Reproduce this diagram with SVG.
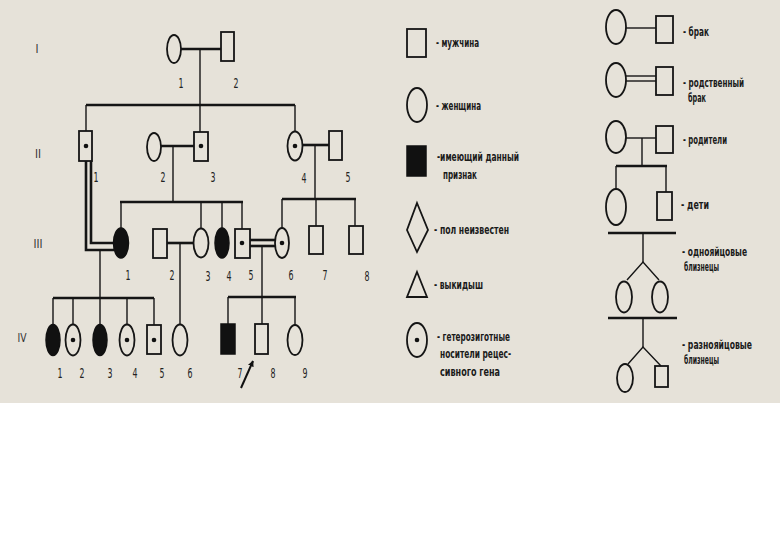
<svg xmlns="http://www.w3.org/2000/svg" width="780" height="540" viewBox="0 0 780 540">
<defs>
<style>
.s{fill:none;stroke:#151515;stroke-width:1.8}
.f{fill:#111;stroke:#111;stroke-width:1.5}
.d{fill:#111}
.ln{stroke:#151515;stroke-width:1.4;fill:none}
.lt{stroke:#151515;stroke-width:2.6;fill:none}
.num{font-family:"Liberation Sans Narrow","DejaVu Sans Condensed","Liberation Sans",sans-serif;font-size:14px;fill:#222;text-anchor:middle}
.gen{font-family:"Liberation Sans Narrow","DejaVu Sans Condensed","Liberation Sans",sans-serif;font-size:12px;fill:#333;text-anchor:middle}
.lg{font-family:"Liberation Sans Narrow","DejaVu Sans Condensed","Liberation Sans",sans-serif;font-size:12px;font-weight:bold;fill:#1a1a1a}
</style>
<marker id="arr" viewBox="0 0 10 10" refX="9" refY="5" markerWidth="6" markerHeight="6" orient="auto" markerUnits="userSpaceOnUse">
<path d="M0,0 L10,5 L0,10 z" fill="#111"/>
</marker>
</defs>
<rect x="0" y="0" width="780" height="403" fill="#e6e2d9"/>
<rect x="0" y="403" width="780" height="137" fill="#ffffff"/>

<g id="gen-labels">
<text class="gen" x="37" y="53" textLength="3" lengthAdjust="spacingAndGlyphs">I</text>
<text class="gen" x="38" y="158" textLength="6" lengthAdjust="spacingAndGlyphs">II</text>
<text class="gen" x="38" y="248" textLength="9" lengthAdjust="spacingAndGlyphs">III</text>
<text class="gen" x="22" y="342" textLength="9" lengthAdjust="spacingAndGlyphs">IV</text>
</g>

<g id="connectors">
<line class="lt" x1="181" y1="49" x2="221" y2="49"/>
<line class="ln" x1="200" y1="49" x2="200" y2="105"/>
<line class="lt" x1="86" y1="105" x2="295" y2="105"/>
<line class="ln" x1="86" y1="105" x2="86" y2="131"/>
<line class="ln" x1="200" y1="105" x2="200" y2="132"/>
<line class="ln" x1="295" y1="105" x2="295" y2="131"/>
<line class="lt" x1="161" y1="146" x2="194" y2="146" stroke-width="3"/>
<line class="ln" x1="173" y1="146" x2="173" y2="202"/>
<line class="lt" x1="302" y1="145" x2="329" y2="145"/>
<line class="ln" x1="315" y1="145" x2="315" y2="199"/>
<line class="lt" x1="120" y1="202" x2="243" y2="202"/>
<line class="ln" x1="121" y1="202" x2="121" y2="228"/>
<line class="ln" x1="201" y1="202" x2="201" y2="229"/>
<line class="ln" x1="222" y1="202" x2="222" y2="228"/>
<line class="ln" x1="242" y1="202" x2="242" y2="229"/>
<line class="lt" x1="282" y1="199" x2="356" y2="199"/>
<line class="ln" x1="282" y1="199" x2="282" y2="228"/>
<line class="ln" x1="316" y1="199" x2="316" y2="226"/>
<line class="ln" x1="355" y1="199" x2="355" y2="226"/>
<path class="lt" d="M86,161 V250 H114" stroke-width="2.2"/>
<path class="lt" d="M91,161 V243 H114" stroke-width="2.2"/>
<line class="ln" x1="100" y1="250" x2="100" y2="298"/>
<line class="lt" x1="167" y1="243" x2="193" y2="243" stroke-width="2"/>
<line class="ln" x1="180" y1="243" x2="180" y2="325"/>
<line class="lt" x1="250" y1="240" x2="275" y2="240" stroke-width="2.2"/>
<line class="lt" x1="250" y1="246" x2="275" y2="246" stroke-width="2.2"/>
<line class="ln" x1="262" y1="246" x2="262" y2="297"/>
<line class="lt" x1="53" y1="298" x2="154" y2="298"/>
<line class="ln" x1="53" y1="298" x2="53" y2="325"/>
<line class="ln" x1="73" y1="298" x2="73" y2="325"/>
<line class="ln" x1="100" y1="298" x2="100" y2="325"/>
<line class="ln" x1="127" y1="298" x2="127" y2="325"/>
<line class="ln" x1="154" y1="298" x2="154" y2="325"/>
<line class="lt" x1="228" y1="297" x2="296" y2="297"/>
<line class="ln" x1="228" y1="297" x2="228" y2="324"/>
<line class="ln" x1="262" y1="297" x2="262" y2="324"/>
<line class="ln" x1="295" y1="297" x2="295" y2="325"/>
<line x1="241" y1="388" x2="253" y2="361" stroke="#111" stroke-width="2" marker-end="url(#arr)"/>
</g>

<g id="I-1"><ellipse class="s" cx="174" cy="49" rx="7" ry="14"/><text class="num" x="181" y="88" textLength="5" lengthAdjust="spacingAndGlyphs">1</text></g>
<g id="I-2"><rect class="s" x="221" y="32" width="13" height="29"/><text class="num" x="236" y="88" textLength="5" lengthAdjust="spacingAndGlyphs">2</text></g>

<g id="II-1"><rect class="s" x="79" y="131" width="13" height="30"/><circle class="d" cx="86" cy="146" r="2.3"/><text class="num" x="96" y="182" textLength="5" lengthAdjust="spacingAndGlyphs">1</text></g>
<g id="II-2"><ellipse class="s" cx="154" cy="147" rx="7" ry="14"/><text class="num" x="163" y="182" textLength="5" lengthAdjust="spacingAndGlyphs">2</text></g>
<g id="II-3"><rect class="s" x="194" y="132" width="14" height="29"/><circle class="d" cx="201" cy="146" r="2.3"/><text class="num" x="213" y="182" textLength="5" lengthAdjust="spacingAndGlyphs">3</text></g>
<g id="II-4"><ellipse class="s" cx="295" cy="146" rx="7.5" ry="14.5"/><circle class="d" cx="295" cy="146" r="2.3"/><text class="num" x="304" y="183" textLength="5" lengthAdjust="spacingAndGlyphs">4</text></g>
<g id="II-5"><rect class="s" x="329" y="131" width="13" height="29"/><text class="num" x="348" y="182" textLength="5" lengthAdjust="spacingAndGlyphs">5</text></g>

<g id="III-1"><ellipse class="f" cx="121" cy="243" rx="7.5" ry="15"/><text class="num" x="128" y="280" textLength="5" lengthAdjust="spacingAndGlyphs">1</text></g>
<g id="III-2"><rect class="s" x="153" y="229" width="14" height="29"/><text class="num" x="172" y="280" textLength="5" lengthAdjust="spacingAndGlyphs">2</text></g>
<g id="III-3"><ellipse class="s" cx="201" cy="243" rx="7.5" ry="14.5"/><text class="num" x="208" y="281" textLength="5" lengthAdjust="spacingAndGlyphs">3</text></g>
<g id="III-4"><ellipse class="f" cx="222" cy="243" rx="7" ry="15"/><text class="num" x="229" y="281" textLength="5" lengthAdjust="spacingAndGlyphs">4</text></g>
<g id="III-5"><rect class="s" x="235" y="229" width="15" height="29"/><circle class="d" cx="242" cy="243" r="2.3"/><text class="num" x="251" y="280" textLength="5" lengthAdjust="spacingAndGlyphs">5</text></g>
<g id="III-6"><ellipse class="s" cx="282" cy="243" rx="7" ry="15"/><circle class="d" cx="282" cy="243" r="2.3"/><text class="num" x="291" y="280" textLength="5" lengthAdjust="spacingAndGlyphs">6</text></g>
<g id="III-7"><rect class="s" x="309" y="226" width="14" height="28"/><text class="num" x="325" y="280" textLength="5" lengthAdjust="spacingAndGlyphs">7</text></g>
<g id="III-8"><rect class="s" x="349" y="226" width="14" height="28"/><text class="num" x="367" y="281" textLength="5" lengthAdjust="spacingAndGlyphs">8</text></g>

<g id="IV-1"><ellipse class="f" cx="53" cy="340" rx="7" ry="15.5"/><text class="num" x="60" y="378" textLength="5" lengthAdjust="spacingAndGlyphs">1</text></g>
<g id="IV-2"><ellipse class="s" cx="73" cy="340" rx="7.5" ry="15.5"/><circle class="d" cx="73" cy="340" r="2.3"/><text class="num" x="82" y="378" textLength="5" lengthAdjust="spacingAndGlyphs">2</text></g>
<g id="IV-3"><ellipse class="f" cx="100" cy="340" rx="7" ry="15.5"/><text class="num" x="110" y="378" textLength="5" lengthAdjust="spacingAndGlyphs">3</text></g>
<g id="IV-4"><ellipse class="s" cx="127" cy="340" rx="7.5" ry="15.5"/><circle class="d" cx="127" cy="340" r="2.3"/><text class="num" x="135" y="378" textLength="5" lengthAdjust="spacingAndGlyphs">4</text></g>
<g id="IV-5"><rect class="s" x="147" y="325" width="14" height="29"/><circle class="d" cx="154" cy="340" r="2.3"/><text class="num" x="162" y="378" textLength="5" lengthAdjust="spacingAndGlyphs">5</text></g>
<g id="IV-6"><ellipse class="s" cx="180" cy="340" rx="7.5" ry="15.5"/><text class="num" x="190" y="378" textLength="5" lengthAdjust="spacingAndGlyphs">6</text></g>
<g id="IV-7"><rect class="f" x="221" y="324" width="14" height="30"/><text class="num" x="240" y="378" textLength="5" lengthAdjust="spacingAndGlyphs">7</text></g>
<g id="IV-8"><rect class="s" x="255" y="324" width="13" height="30"/><text class="num" x="273" y="378" textLength="5" lengthAdjust="spacingAndGlyphs">8</text></g>
<g id="IV-9"><ellipse class="s" cx="295" cy="340" rx="7.5" ry="15"/><text class="num" x="305" y="378" textLength="5" lengthAdjust="spacingAndGlyphs">9</text></g>

<g id="legend-male"><rect class="s" x="407" y="29" width="19" height="28"/><text class="lg" x="436" y="47" textLength="43" lengthAdjust="spacingAndGlyphs">- мужчина</text></g>
<g id="legend-female"><ellipse class="s" cx="417" cy="105" rx="10" ry="17"/><text class="lg" x="436" y="110" textLength="45" lengthAdjust="spacingAndGlyphs">- женщина</text></g>
<g id="legend-affected"><rect class="f" x="407" y="146" width="19" height="30"/><text class="lg" x="437" y="161" textLength="82" lengthAdjust="spacingAndGlyphs">-имеющий данный</text><text class="lg" x="443" y="179" textLength="34" lengthAdjust="spacingAndGlyphs">признак</text></g>
<g id="legend-unknown"><polygon class="s" points="417,203 428,230 417,252 407,230"/><text class="lg" x="434" y="234" textLength="75" lengthAdjust="spacingAndGlyphs">- пол неизвестен</text></g>
<g id="legend-miscarriage"><polygon class="s" points="417,272 427,297 407,297"/><text class="lg" x="434" y="289" textLength="49" lengthAdjust="spacingAndGlyphs">- выкидыш</text></g>
<g id="legend-carrier"><ellipse class="s" cx="417" cy="340" rx="10" ry="17"/><circle class="d" cx="417" cy="340" r="2.3"/><text class="lg" x="437" y="341" textLength="73" lengthAdjust="spacingAndGlyphs">- гетерозиготные</text><text class="lg" x="440" y="358" textLength="71" lengthAdjust="spacingAndGlyphs">носители рецес-</text><text class="lg" x="440" y="376" textLength="60" lengthAdjust="spacingAndGlyphs">сивного гена</text></g>

<g id="legend-marriage"><ellipse class="s" cx="616" cy="27" rx="10" ry="17"/><rect class="s" x="656" y="16" width="17" height="27"/><line class="ln" x1="626" y1="28" x2="656" y2="28" stroke-width="1.8"/><text class="lg" x="683" y="36" textLength="26" lengthAdjust="spacingAndGlyphs">- брак</text></g>
<g id="legend-consanguineous"><ellipse class="s" cx="616" cy="80" rx="10" ry="17"/><rect class="s" x="656" y="67" width="17" height="28"/><line class="ln" x1="626" y1="76" x2="656" y2="76" stroke-width="1.8"/><line class="ln" x1="626" y1="81" x2="656" y2="81" stroke-width="1.8"/><text class="lg" x="683" y="87" textLength="61" lengthAdjust="spacingAndGlyphs">- родственный</text><text class="lg" x="688" y="102" textLength="18" lengthAdjust="spacingAndGlyphs">брак</text></g>
<g id="legend-parents"><ellipse class="s" cx="616" cy="137" rx="10" ry="16"/><rect class="s" x="656" y="126" width="17" height="27"/><line class="ln" x1="626" y1="138" x2="656" y2="138" stroke-width="1.8"/><line class="ln" x1="642" y1="138" x2="642" y2="166" stroke-width="1.8"/><text class="lg" x="683" y="144" textLength="44" lengthAdjust="spacingAndGlyphs">- родители</text></g>
<g id="legend-children"><line class="lt" x1="616" y1="166" x2="667" y2="166" stroke-width="2"/><line class="ln" x1="616" y1="166" x2="616" y2="189" stroke-width="1.8"/><line class="ln" x1="666" y1="166" x2="666" y2="192" stroke-width="1.8"/><ellipse class="s" cx="616" cy="207" rx="10" ry="18"/><rect class="s" x="657" y="192" width="15" height="28"/><text class="lg" x="681" y="209" textLength="28" lengthAdjust="spacingAndGlyphs">- дети</text></g>
<g id="legend-identical-twins"><line class="lt" x1="608" y1="233" x2="676" y2="233" stroke-width="2"/><line class="ln" x1="643" y1="233" x2="643" y2="262" stroke-width="1.6"/><polyline class="ln" points="627,280 643,262 659,280" stroke-width="1.6"/><ellipse class="s" cx="624" cy="297" rx="8" ry="15.5"/><ellipse class="s" cx="660" cy="297" rx="8" ry="15.5"/><text class="lg" x="682" y="256" textLength="65" lengthAdjust="spacingAndGlyphs">- однояйцовые</text><text class="lg" x="684" y="271" textLength="35" lengthAdjust="spacingAndGlyphs">близнецы</text></g>
<g id="legend-fraternal-twins"><line class="lt" x1="608" y1="318" x2="677" y2="318" stroke-width="2"/><line class="ln" x1="643" y1="318" x2="643" y2="347" stroke-width="1.6"/><polyline class="ln" points="628,364 643,347 661,366" stroke-width="1.6"/><ellipse class="s" cx="625" cy="378" rx="8" ry="14"/><rect class="s" x="655" y="366" width="13" height="21"/><text class="lg" x="682" y="349" textLength="70" lengthAdjust="spacingAndGlyphs">- разнояйцовые</text><text class="lg" x="684" y="364" textLength="35" lengthAdjust="spacingAndGlyphs">близнецы</text></g>
</svg>
